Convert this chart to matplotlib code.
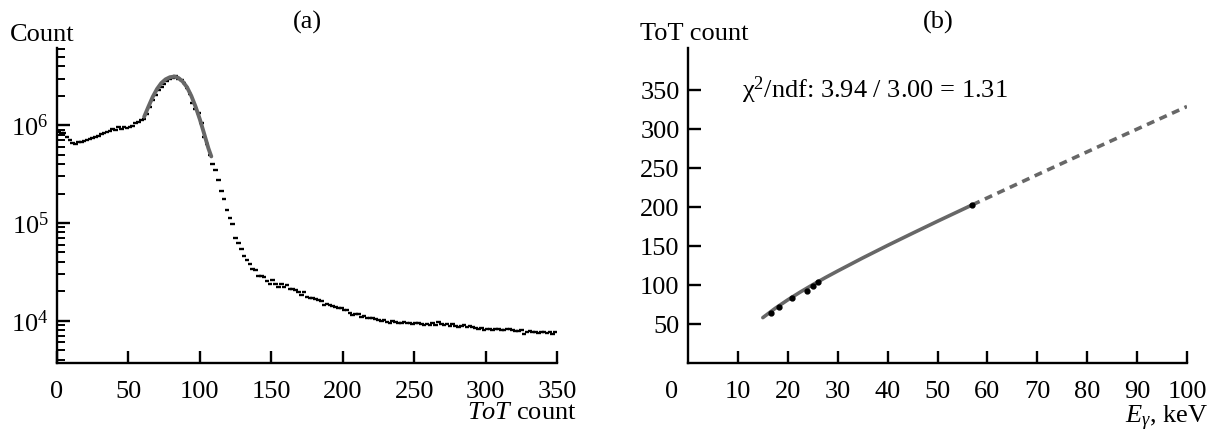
import numpy as np
import matplotlib
matplotlib.use("Agg")
import matplotlib.pyplot as plt

plt.rcParams['font.family'] = ['Liberation Serif', 'DejaVu Serif']
plt.rcParams['mathtext.fontset'] = 'custom'
plt.rcParams['mathtext.rm'] = 'Liberation Serif'
plt.rcParams['mathtext.it'] = 'Liberation Serif:italic'
plt.rcParams['mathtext.bf'] = 'Liberation Serif:bold'

# =========================
# (a) ToT spectrum, 2-count bins from 0 to 350
# =========================
bin_width = 2
counts = [
    8.6e5, 8.4e5, 8.3e5, 7.6e5, 7.0e5, 6.6e5, 6.5e5, 6.7e5, 6.8e5, 6.9e5,   # 1..19
    7.1e5, 7.2e5, 7.4e5, 7.6e5, 7.8e5, 8.1e5, 8.3e5, 8.6e5, 8.8e5, 9.2e5,   # 21..39
    8.9e5, 9.5e5, 9.1e5, 9.6e5, 9.3e5, 9.7e5, 9.8e5, 1.05e6, 1.08e6, 1.12e6,  # 41..59
    1.15e6, 1.3e6, 1.55e6, 1.8e6, 2.05e6, 2.3e6, 2.45e6, 2.65e6, 2.85e6, 3.0e6,  # 61..79
    3.05e6, 3.2e6, 3.0e6, 2.9e6, 2.7e6, 2.4e6, 2.1e6, 1.7e6, 1.45e6, 1.35e6,  # 81..99
    1.05e6, 7.6e5, 6.5e5, 5.0e5, 4.05e5, 3.45e5, 2.73e5, 2.15e5, 1.75e5, 1.37e5,  # 101..119
    1.13e5, 9.7e4, 7.1e4, 6.3e4, 5.4e4, 4.6e4, 4.2e4, 3.8e4, 3.35e4, 3.3e4,  # 121..139
    2.9e4, 2.85e4, 2.8e4, 2.55e4, 2.4e4, 2.6e4, 2.4e4, 2.2e4, 2.4e4, 2.2e4,  # 141..159
    2.3e4, 2.1e4, 2.1e4, 2.05e4, 1.95e4, 1.84e4, 1.95e4, 1.75e4, 1.72e4, 1.7e4,  # 161..179
    1.68e4, 1.62e4, 1.58e4, 1.46e4, 1.5e4, 1.45e4, 1.42e4, 1.38e4, 1.36e4, 1.34e4,  # 181..199
    1.3e4, 1.28e4, 1.2e4, 1.15e4, 1.18e4, 1.16e4, 1.1e4, 1.12e4, 1.07e4, 1.08e4,  # 201..219
    1.06e4, 1.05e4, 1.03e4, 1.0e4, 1.02e4, 9.7e3, 9.6e3, 9.9e3, 9.8e3, 9.5e3,  # 221..239
    9.6e3, 9.7e3, 9.4e3, 9.6e3, 9.3e3, 9.4e3, 9.5e3, 9.3e3, 9.1e3, 9.2e3,  # 241..259
    9.0e3, 9.4e3, 9.1e3, 9.8e3, 9.2e3, 9.0e3, 9.2e3, 8.9e3, 9.3e3, 8.8e3,  # 261..279
    8.6e3, 8.9e3, 9.0e3, 8.7e3, 8.8e3, 8.6e3, 8.5e3, 8.3e3, 8.5e3, 8.1e3,  # 281..299
    8.3e3, 8.2e3, 8.0e3, 8.3e3, 8.2e3, 8.0e3, 8.1e3, 8.2e3, 8.3e3, 8.1e3,  # 301..319
    7.9e3, 7.8e3, 8.0e3, 7.4e3, 7.6e3, 7.9e3, 7.7e3, 7.6e3, 7.5e3, 7.7e3,  # 321..339
    7.6e3, 7.5e3, 7.6e3, 7.4e3, 7.6e3,                                      # 341..349
]

# peak fit curve
peak_fit_tot = [61, 64, 67, 70, 73, 76, 79, 82, 85, 88, 91, 94, 97, 100, 103, 106, 108]
peak_fit_cnt = [1.22e6, 1.55e6, 1.95e6, 2.35e6, 2.7e6, 2.95e6, 3.1e6, 3.15e6, 3.05e6,
                2.8e6, 2.45e6, 2.0e6, 1.55e6, 1.15e6, 8.2e5, 5.8e5, 4.8e5]

# =========================
# (b) calibration
# =========================
energy_kev = [16.6, 18.3, 20.9, 23.9, 25.0, 26.0, 56.9]
tot_mean = [64.5, 71.4, 83.0, 92.7, 98.7, 104.0, 202.6]

calib_e_solid = [15, 17.5, 20, 22.5, 25, 27.5, 30, 35, 40, 45, 50, 57]
calib_t_solid = [58.2, 70.2, 81.0, 91.0, 100.4, 109.4, 118.0, 134.7, 150.8, 166.4, 181.8, 202.9]
calib_e_dash = [57, 70, 85, 100]
calib_t_dash = [202.9, 241.5, 285.5, 329.0]

chi_text = 'χ$^2$/ndf: 3.94 / 3.00 = 1.31'

FS = 19
GRAY = '#676767'

fig = plt.figure(figsize=(12.13, 4.34), dpi=100)
ax1 = fig.add_axes([57 / 1213, 71 / 434, 500 / 1213, 315 / 434])
ax2 = fig.add_axes([688 / 1213, 71 / 434, 499 / 1213, 315 / 434])


def style_axes(ax):
    for side in ('top', 'right'):
        ax.spines[side].set_visible(False)
    for side in ('left', 'bottom'):
        ax.spines[side].set_linewidth(1.7)
    ax.tick_params(which='major', direction='in', length=9, width=1.7,
                   labelsize=FS, pad=13)
    ax.tick_params(which='minor', direction='in', length=6, width=1.4)
    ax.tick_params(axis='y', pad=6)


# ---- panel (a)
centers = 1 + bin_width * np.arange(len(counts))
ax1.hlines(counts, centers - 1.6, centers + 1.6, color='black', lw=1.7)
ax1.plot(peak_fit_tot, peak_fit_cnt, color=GRAY, lw=2.8, solid_capstyle='round')
ax1.set_yscale('log')
ax1.set_xlim(0, 350)
ax1.set_ylim(3.7e3, 6.17e6)
ax1.set_xticks([0, 50, 100, 150, 200, 250, 300, 350])
ax1.set_yticks([1e4, 1e5, 1e6])
ax1.set_yticklabels([r'$10^4$', r'$10^5$', r'$10^6$'])
style_axes(ax1)

fig.text(10 / 1213, 1 - 35 / 434, 'Count', fontsize=FS, ha='left', va='center')
fig.text(307 / 1213, 1 - 22 / 434, '(a)', fontsize=FS, ha='center', va='center')
fig.text(577 / 1213, 1 - 413 / 434, r'$\mathit{ToT}$ count', fontsize=FS,
         ha='right', va='center')

# ---- panel (b)
ax2.plot(calib_e_solid, calib_t_solid, color=GRAY, lw=2.6, solid_capstyle='round')
ax2.plot(calib_e_dash, calib_t_dash, color=GRAY, lw=2.6, ls=(0, (2.2, 1.6)))
ax2.plot(energy_kev, tot_mean, 'o', color='black', ms=3.5)
ax2.set_xlim(0, 100)
ax2.set_ylim(0, 404)
ax2.set_xticks(range(10, 101, 10))
ax2.set_yticks(range(50, 351, 50))
style_axes(ax2)
ax2.annotate('0', xy=(0, 0), xycoords='axes fraction', xytext=(-12, -13),
             textcoords='offset points', fontsize=FS, ha='center', va='top')
ax2.text(10.8, 350, chi_text, fontsize=FS, ha='left', va='center')

fig.text(640 / 1213, 1 - 34 / 434, 'ToT count', fontsize=FS, ha='left', va='center')
fig.text(938 / 1213, 1 - 22 / 434, '(b)', fontsize=FS, ha='center', va='center')
fig.text(1208 / 1213, 1 - 418 / 434, r'$E_\gamma$, keV', fontsize=FS,
         ha='right', va='center')

fig.savefig('out.png', dpi=100)
